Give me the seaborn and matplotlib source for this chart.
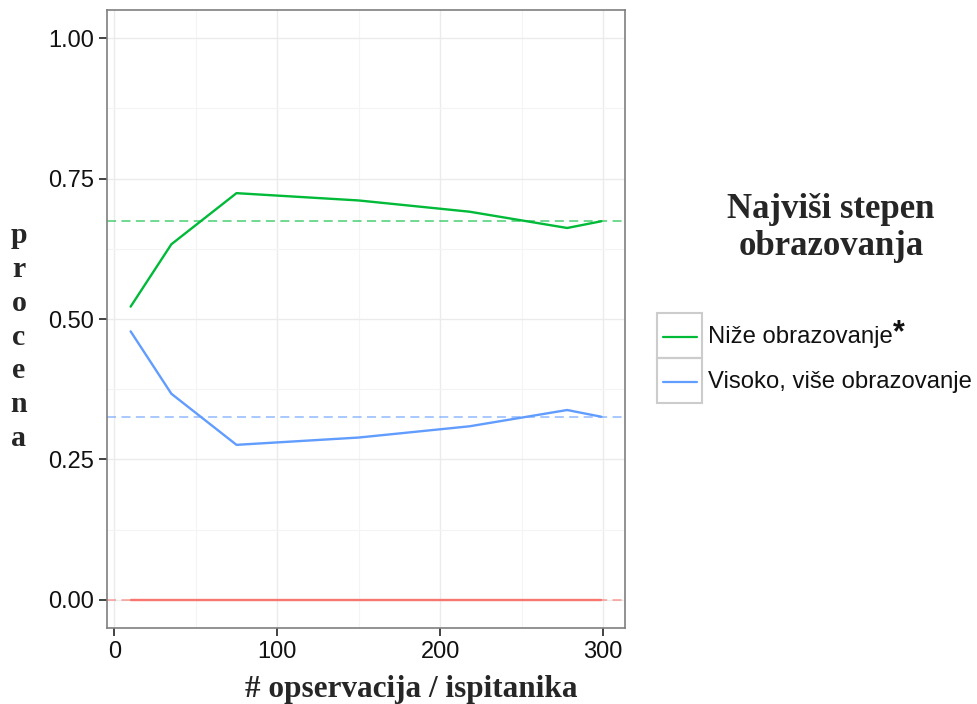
import numpy as np
import pandas as pd
import matplotlib
matplotlib.use("Agg")
import matplotlib.pyplot as plt
from matplotlib.lines import Line2D
from matplotlib.patches import Rectangle
from matplotlib.ticker import MultipleLocator
import seaborn as sns

# ---- data ----
n_obs = [10, 35, 75, 150, 218, 278, 299]
nize = [0.522, 0.633, 0.724, 0.711, 0.691, 0.662, 0.674]
visoko = [0.478, 0.367, 0.276, 0.289, 0.309, 0.338, 0.326]
ostalo = [0.0, 0.0, 0.0, 0.0, 0.0, 0.0, 0.0]
groups = ["Ostalo", "Niže obrazovanje", "Visoko, više obrazovanje"]
overall = [0.0, 0.674, 0.326]
colors = ["#F8766D", "#00BA38", "#619CFF"]
x_ticks = [0, 100, 200, 300]
y_ticks = [0.0, 0.25, 0.5, 0.75, 1.0]
y_tick_labels = ["0.00", "0.25", "0.50", "0.75", "1.00"]

df = pd.DataFrame({
    "n": n_obs * 3,
    "p": ostalo + nize + visoko,
    "g": [groups[0]] * len(n_obs) + [groups[1]] * len(n_obs) + [groups[2]] * len(n_obs),
})

sns.set_theme(style="white")
plt.rcParams["font.family"] = ["Liberation Sans", "DejaVu Sans"]

fig = plt.figure(figsize=(9.77, 7.04), dpi=100)
ax = fig.add_axes([107 / 977, 1 - 628 / 704, (625 - 107) / 977, (628 - 10) / 704])

# grid
ax.set_axisbelow(True)
ax.xaxis.set_minor_locator(MultipleLocator(50))
ax.yaxis.set_minor_locator(MultipleLocator(0.125))
ax.grid(which="major", color="#EBEBEB", lw=1.0)
ax.grid(which="minor", color="#F4F4F4", lw=0.8)

for val, c in zip(overall, colors):
    ax.axhline(val, color=c, alpha=0.6, lw=1.3, ls=(0, (5, 3)), zorder=2)

sns.lineplot(data=df, x="n", y="p", hue="g", hue_order=groups,
             palette=dict(zip(groups, colors)), estimator=None, sort=False,
             lw=1.7, legend=False, ax=ax, zorder=3)

ax.set_xlim(-4.5, 313.5)
ax.set_ylim(-0.05, 1.05)
ax.set_xticks(x_ticks)
ax.set_yticks(y_ticks)
ax.set_yticklabels(y_tick_labels)
ax.tick_params(axis="both", which="major", direction="out", length=5.5, width=1.3,
               color="#333333", labelsize=17, labelcolor="#111111", pad=4,
               bottom=True, left=True)
ax.tick_params(which="minor", length=0)
for s in ax.spines.values():
    s.set_color("#7F7F7F")
    s.set_linewidth(1.2)
ax.set_xlabel("")
ax.set_ylabel("")

# axis labels
serif = ["Liberation Serif", "DejaVu Serif"]
fig.text(411 / 977, 1 - 689 / 704, "# opservacija / ispitanika", ha="center", va="center",
         fontsize=22.5, fontweight="bold", family=serif)
fig.text(19 / 977, 1 - 337 / 704, "\n".join("procena"), ha="center", va="center",
         fontsize=21.5, fontweight="bold", family=serif, linespacing=1.33)

# legend title
fig.text(831 / 977, 1 - 228 / 704, "Najviši stepen\nobrazovanja", ha="center", va="center",
         fontsize=25, fontweight="bold", family=serif, linespacing=1.15)

# legend keys
for i, (lab, c) in enumerate(zip(groups[1:], colors[1:])):
    y0 = 313 + i * 45
    fig.add_artist(Rectangle((657 / 977, 1 - (y0 + 45) / 704), 45 / 977, 45 / 704,
                             transform=fig.transFigure, fill=False, ec="#CCCCCC", lw=1.5))
    yc = 1 - (y0 + 24) / 704
    fig.add_artist(Line2D([663 / 977, 697 / 977], [yc, yc], transform=fig.transFigure,
                          color=c, lw=1.6))
    fig.text(708 / 977, yc, lab, ha="left", va="center", fontsize=17.2, color="#111111")
fig.text(893 / 977, 1 - 333 / 704, "*", ha="left", va="center", fontsize=22,
         fontweight="bold", color="#111111")

fig.savefig("out.png", dpi=100, facecolor="white")
